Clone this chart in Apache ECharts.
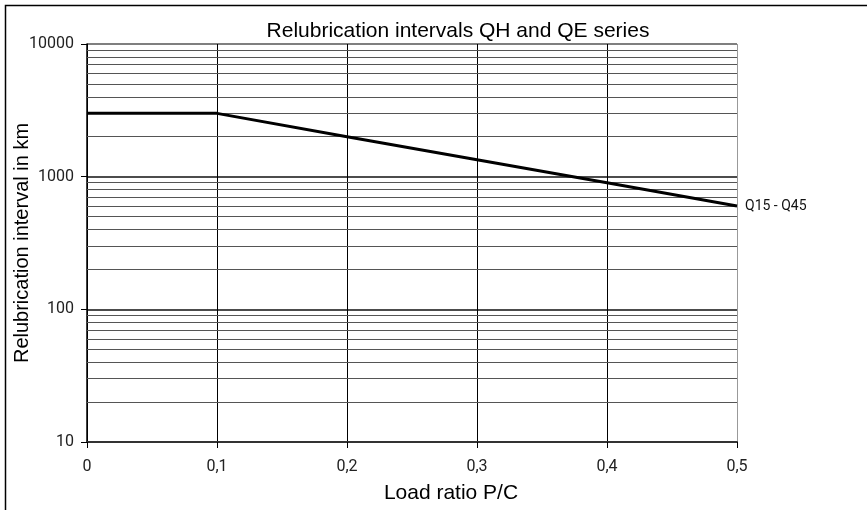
<!DOCTYPE html>
<html>
<head>
<meta charset="utf-8">
<script src="https://cdn.jsdelivr.net/npm/echarts@6/dist/echarts.min.js"></script>
<style>
html, body { margin: 0; padding: 0; background: #fff; }
#chart { width: 867px; height: 510px; }
</style>
</head>
<body>
<div id="chart"></div>
<script>
/* data */
var loadRatio = [0, 0.1, 0.2, 0.3, 0.4, 0.5];
var interval = [3000, 3000, 2000, 1340, 900, 600];
var xTicks = ['0', '0,1', '0,2', '0,3', '0,4', '0,5'];
var minorLevels = [20, 30, 40, 50, 60, 70, 80, 90,
	200, 300, 400, 500, 600, 700, 800, 900,
	2000, 3000, 4000, 5000, 6000, 7000, 8000, 9000];
var seriesName = 'Q15 - Q45';

var points = [];
for (var i = 0; i < loadRatio.length; i++) {
	points.push([loadRatio[i], interval[i]]);
}
var minorLines = [];
for (var j = 0; j < minorLevels.length; j++) {
	minorLines.push({ yAxis: minorLevels[j] });
}

var chart = echarts.init(document.getElementById('chart'));
var option = {
	animation: false,
	backgroundColor: '#fff',
	title: {
		text: 'Relubrication intervals QH and QE series',
		left: 453,
		top: 16,
		textAlign: 'center',
		textStyle: {
			fontFamily: 'Liberation Sans',
			fontWeight: 'normal',
			fontSize: 21,
			color: '#000'
		}
	},
	grid: {
		left: 87,
		right: 130,
		top: 44,
		bottom: 68,
		outerBoundsMode: 'none',
		containLabel: false
	},
	xAxis: {
		type: 'value',
		min: 0,
		max: 0.5,
		interval: 0.1,
		name: 'Load ratio P/C',
		nameLocation: 'middle',
		nameGap: 41,
		nameMoveOverlap: false,
		nameTextStyle: {
			fontFamily: 'Liberation Sans',
			fontSize: 21,
			color: '#000',
			padding: [0, 0, 0, 78]
		},
		axisLine: { lineStyle: { color: '#333', width: 2 } },
		axisTick: { show: true, length: 6, lineStyle: { color: '#000' } },
		axisLabel: {
			margin: 17,
			fontFamily: 'Roboto',
			fontSize: 16,
			color: '#222',
			formatter: function (v) {
				return xTicks[Math.round(v * 10)];
			}
		},
		splitLine: {
			show: true,
			lineStyle: { color: ['#000', '#000', '#000', '#000', '#000', '#999'], width: 1 }
		}
	},
	yAxis: {
		type: 'log',
		logBase: 10,
		min: 10,
		max: 10000,
		name: 'Relubrication interval in km',
		nameLocation: 'middle',
		nameGap: 55,
		nameMoveOverlap: false,
		nameTextStyle: {
			fontFamily: 'Liberation Sans',
			fontSize: 20,
			color: '#000'
		},
		axisLine: { show: true, lineStyle: { color: '#000', width: 1.5 } },
		axisTick: { show: true, length: 6, lineStyle: { color: '#000' } },
		axisLabel: {
			margin: 13,
			padding: [4, 0, 0, 0],
			fontFamily: 'Roboto',
			fontSize: 16,
			color: '#222',
			formatter: function (v) {
				return String(Math.round(v));
			}
		},
		splitLine: {
			show: true,
			lineStyle: { color: ['#333', '#111', '#111', '#555'], width: 1.5 }
		}
	},
	series: [
		{
			name: 'minor',
			type: 'line',
			data: [],
			z: 1,
			silent: true,
			markLine: {
				silent: true,
				symbol: ['none', 'none'],
				label: { show: false },
				lineStyle: { color: '#555', width: 1, type: 'solid' },
				data: minorLines,
				animation: false
			}
		},
		{
			name: seriesName,
			type: 'line',
			data: points,
			z: 5,
			showSymbol: false,
			symbol: 'none',
			lineStyle: { color: '#000', width: 3 },
			endLabel: {
				show: true,
				formatter: seriesName,
				distance: 8,
				fontFamily: 'Roboto',
				fontSize: 14,
				color: '#111'
			}
		}
	],
	graphic: [
		{
			type: 'rect',
			shape: { x: 5.5, y: 5.5, width: 900, height: 600 },
			style: { fill: null, stroke: '#000', lineWidth: 1.5 },
			silent: true
		}
	]
};
chart.setOption(option);
</script>
</body>
</html>
